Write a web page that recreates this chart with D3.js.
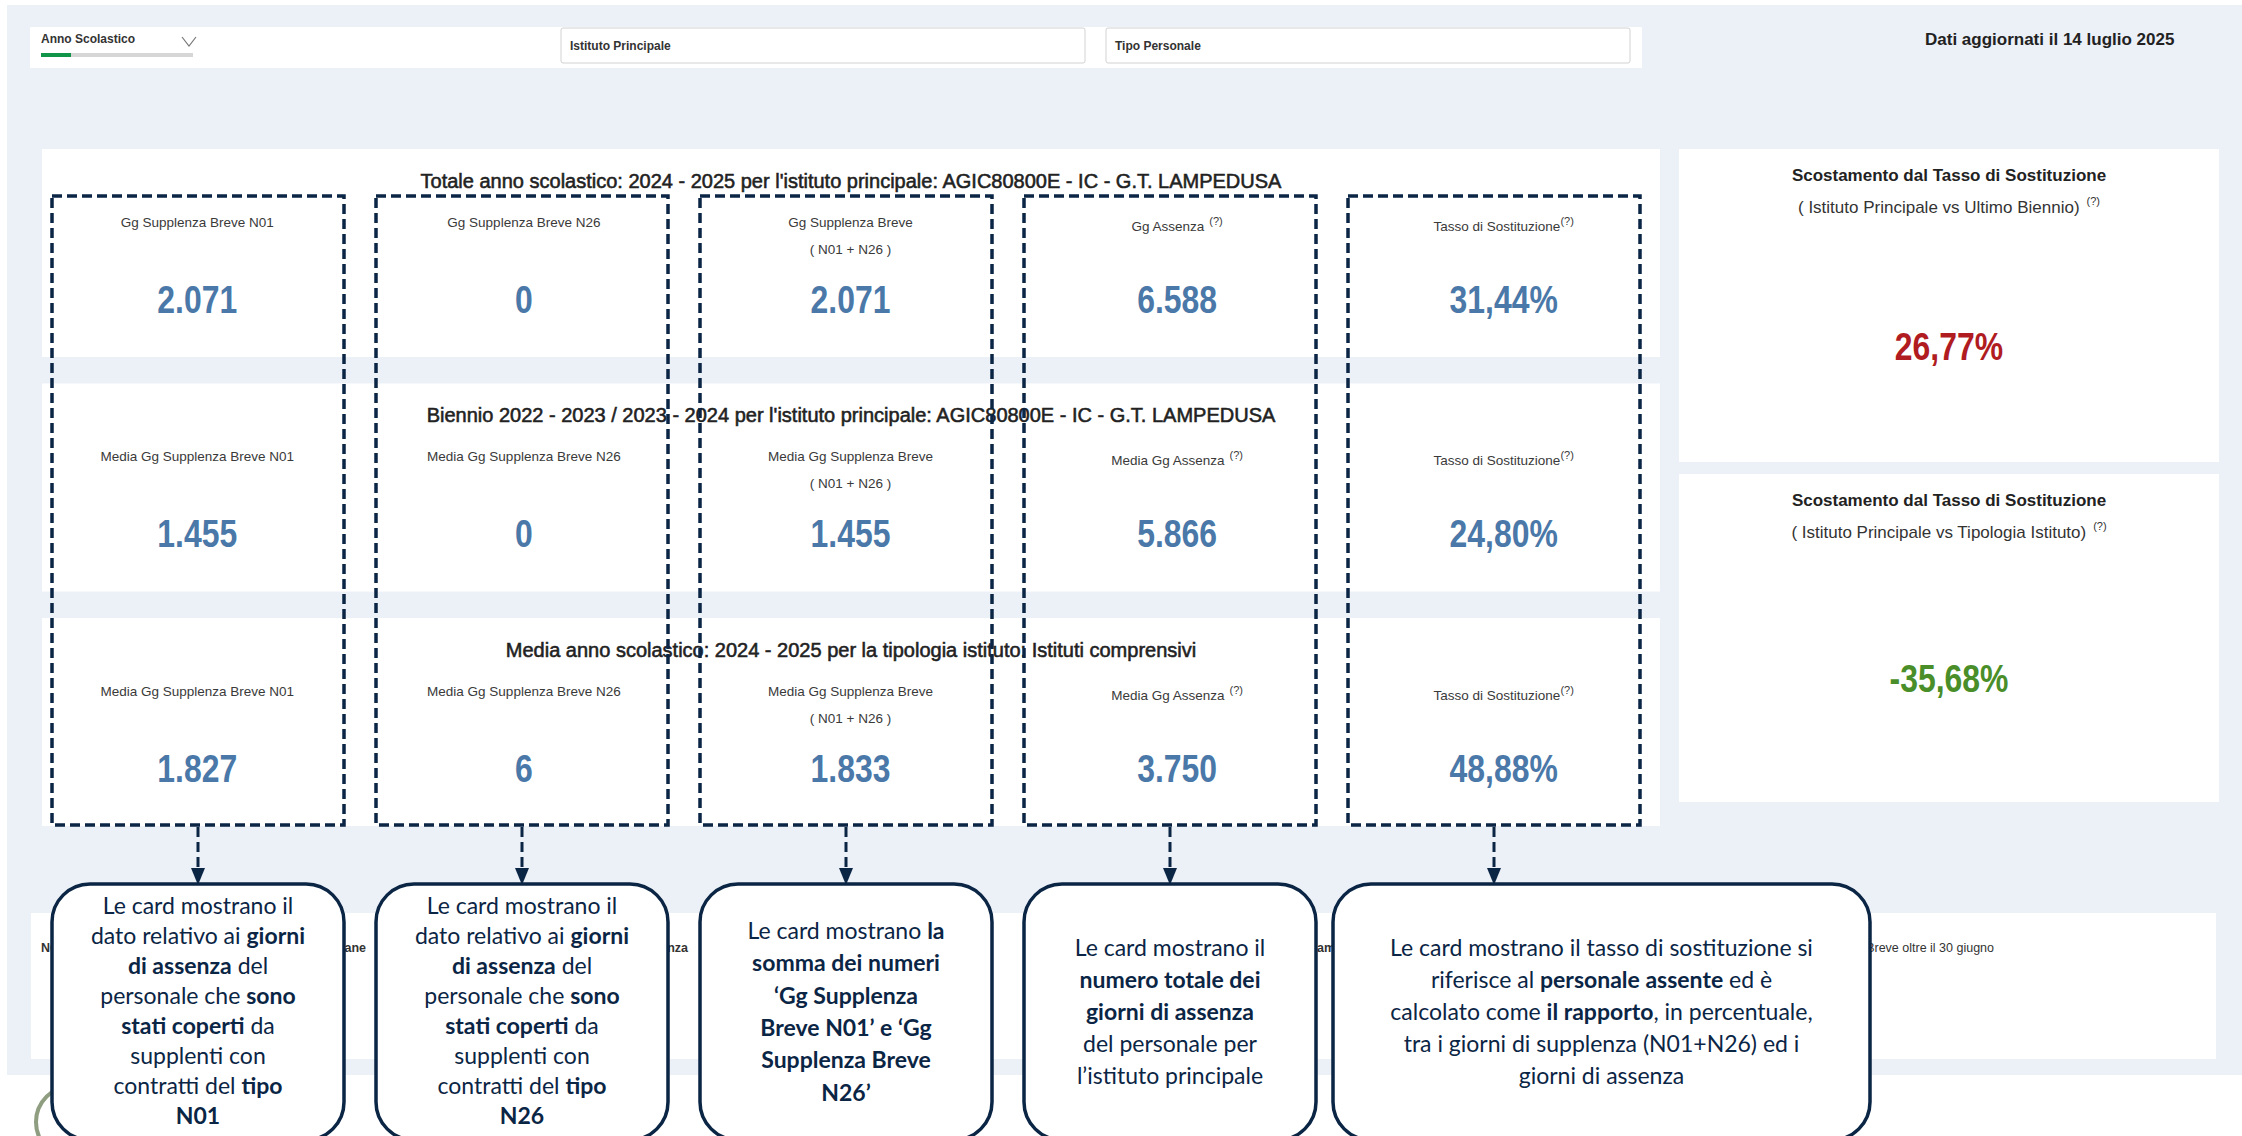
<!DOCTYPE html>
<html>
<head>
<meta charset="utf-8">
<script src="https://cdn.jsdelivr.net/npm/d3@7"></script>
<style>
  body { margin: 0; background: #fff; }
  svg { display: block; }
  text { font-family: "Liberation Sans", Arial, sans-serif; }
  .nota text { font-family: Lato, "Open Sans", sans-serif; }
</style>
</head>
<body>
<svg width="2242" height="1136"></svg>
<script>
// Dati della dashboard
const colonne = ["n01", "n26", "somma", "assenza", "tasso"];
const righe = ["totale", "biennio", "tipologia"];
const titoliRighe = [
  "Totale anno scolastico: 2024 - 2025 per l'istituto principale: AGIC80800E - IC - G.T. LAMPEDUSA",
  "Biennio 2022 - 2023 / 2023 - 2024 per l'istituto principale: AGIC80800E - IC - G.T. LAMPEDUSA",
  "Media anno scolastico: 2024 - 2025 per la tipologia istituto: Istituti comprensivi"
];
const etichetteTotale = ["Gg Supplenza Breve N01", "Gg Supplenza Breve N26", "Gg Supplenza Breve", "Gg Assenza", "Tasso di Sostituzione"];
const etichetteMedia = ["Media Gg Supplenza Breve N01", "Media Gg Supplenza Breve N26", "Media Gg Supplenza Breve", "Media Gg Assenza", "Tasso di Sostituzione"];
const sottoEtichette = ["", "", "( N01 + N26 )", "", ""];
const apici = ["", "", "", "(?)", "(?)"];
const valoriTotale = [2071, 0, 2071, 6588, 31.44];
const valoriBiennio = [1455, 0, 1455, 5866, 24.80];
const valoriTipologia = [1827, 6, 1833, 3750, 48.88];

const titoloScostamento = "Scostamento dal Tasso di Sostituzione";
const sottotitoliScostamento = ["( Istituto Principale vs Ultimo Biennio)", "( Istituto Principale vs Tipologia Istituto)"];
const valoriScostamento = [26.77, -35.68];

const filtri = ["Istituto Principale", "Tipo Personale"];
const filtroAnno = "Anno Scolastico";
const dataAggiornamento = "Dati aggiornati il 14 luglio 2025";

// testi delle note (** = grassetto)
const noteCard = [
  ["Le card mostrano il", "dato relativo ai **giorni**", "**di assenza** del", "personale che **sono**", "**stati coperti** da", "supplenti con", "contratti del **tipo**", "**N01**"],
  ["Le card mostrano il", "dato relativo ai **giorni**", "**di assenza** del", "personale che **sono**", "**stati coperti** da", "supplenti con", "contratti del **tipo**", "**N26**"],
  ["Le card mostrano **la**", "**somma dei numeri**", "**‘Gg Supplenza**", "**Breve N01’ e ‘Gg**", "**Supplenza Breve**", "**N26’**"],
  ["Le card mostrano il", "**numero totale dei**", "**giorni di assenza**", "del personale per", "l’istituto principale"],
  ["Le card mostrano il tasso di sostituzione si", "riferisce al **personale assente** ed è", "calcolato come **il rapporto**, in percentuale,", "tra i giorni di supplenza (N01+N26) ed i", "giorni di assenza"]
];

// testi parzialmente coperti nel riquadro note in basso
const frammentiNote = ["NOTE", "settimane", "assenza", "ambito", "Supplenza Breve oltre il 30 giugno"];

// Colori
const sfondo = "#ecf0f7";
const blu = "#4a78a8";
const navy = "#0b2545";

let svg = d3.select("svg");

const it = d3.formatLocale({ decimal: ",", thousands: ".", grouping: [3], currency: ["€", ""], minus: "-" });
const fmtNum = it.format(",d");
const fmtPct = (v) => it.format(".2f")(v) + "%";

// Scale
const x = d3.scaleBand().domain(colonne).range([34, 1667]);
const y = d3.scaleBand().domain(righe).range([149, 826]).paddingInner(0.113);
const xBox = d3.scalePoint().domain(colonne).range([198, 1494]);
const boxW = 292;

// stringe il testo in orizzontale (font tipo DIN)
function condensa(sel, k) {
  sel.each(function () {
    const w = this.getComputedTextLength();
    d3.select(this).attr("textLength", w * k).attr("lengthAdjust", "spacingAndGlyphs");
  });
}

// sfondo pagina
svg.append("rect").attr("x", 7).attr("y", 5).attr("width", 2235).attr("height", 1070).attr("fill", sfondo);

// barra filtri
svg.append("rect").attr("x", 30).attr("y", 27).attr("width", 1612).attr("height", 41).attr("fill", "#fff");
svg.append("text").attr("x", 41).attr("y", 43).text(filtroAnno)
  .style("font-size", "12px").style("font-weight", "bold").attr("fill", "#333");
svg.append("polyline").attr("points", "182,37 189,46 196,37")
  .attr("fill", "none").attr("stroke", "#777").attr("stroke-width", 1.2);
svg.append("rect").attr("x", 41).attr("y", 53).attr("width", 152).attr("height", 4).attr("fill", "#d6d6d6");
svg.append("rect").attr("x", 41).attr("y", 53).attr("width", 30).attr("height", 4).attr("fill", "#109447");

const xFiltro = d3.scalePoint().domain(filtri).range([561, 1106]);
filtri.forEach((f) => {
  svg.append("rect").attr("x", xFiltro(f)).attr("y", 28).attr("width", 524).attr("height", 35)
    .attr("rx", 2).attr("fill", "#fff").attr("stroke", "#d2d2d2");
  svg.append("text").attr("x", xFiltro(f) + 9).attr("y", 50).text(f)
    .style("font-size", "12px").style("font-weight", "bold").attr("fill", "#333");
});

svg.append("text").attr("x", 1925).attr("y", 45).text(dataAggiornamento)
  .style("font-size", "17px").style("font-weight", "bold").attr("fill", "#222");

// pannello principale: righe bianche con le card
const datiRighe = [valoriTotale, valoriBiennio, valoriTipologia];
const etichetteRighe = [etichetteTotale, etichetteMedia, etichetteMedia];

righe.forEach((r, i) => {
  const top = y(r);
  svg.append("rect").attr("x", 42).attr("y", top).attr("width", 1618).attr("height", y.bandwidth()).attr("fill", "#fff");

  svg.append("text").attr("x", 851).attr("y", top + 39).attr("text-anchor", "middle")
    .text(titoliRighe[i])
    .style("font-size", "20px").attr("fill", "#222").attr("stroke", "#222").attr("stroke-width", 0.55);

  colonne.forEach((c, j) => {
    const cx = x(c) + x.bandwidth() / 2;

    // etichetta
    const lab = svg.append("text").attr("x", cx).attr("y", top + (j >= 3 ? 82 : 78))
      .attr("text-anchor", "middle")
      .style("font-size", "13.5px").attr("fill", "#3a3a3a");
    lab.append("tspan").text(etichetteRighe[i][j]);
    if (apici[j] !== "") {
      lab.append("tspan")
        .attr("dx", c === "assenza" ? 5 : 0)
        .attr("dy", -6)
        .style("font-size", "11px")
        .text(apici[j]);
    }

    // seconda riga dell'etichetta
    if (sottoEtichette[j] !== "") {
      svg.append("text").attr("x", cx).attr("y", top + 105).attr("text-anchor", "middle")
        .style("font-size", "13.5px").attr("fill", "#3a3a3a")
        .text(sottoEtichette[j]);
    }

    // valore
    svg.append("text").attr("x", cx).attr("y", top + 164).attr("text-anchor", "middle")
      .style("font-size", "38px").style("font-weight", "bold").attr("fill", blu)
      .text(c === "tasso" ? fmtPct(datiRighe[i][j]) : fmtNum(datiRighe[i][j]))
      .call(condensa, 0.84);
  });
});

// pannelli scostamento a destra
const pannelli = [[149, 462], [474, 802]];
const xPan = 1679, wPan = 540, cxPan = xPan + wPan / 2;
valoriScostamento.forEach((v, i) => {
  const [t, b] = pannelli[i];
  svg.append("rect").attr("x", xPan).attr("y", t).attr("width", wPan).attr("height", b - t).attr("fill", "#fff");
  svg.append("text").attr("x", cxPan).attr("y", t + 32).attr("text-anchor", "middle")
    .text(titoloScostamento)
    .style("font-size", "17px").style("font-weight", "bold").attr("fill", "#222");
  const st = svg.append("text").attr("x", cxPan).attr("y", t + 64).attr("text-anchor", "middle")
    .style("font-size", "17px").attr("fill", "#333");
  st.append("tspan").text(sottotitoliScostamento[i]);
  st.append("tspan").attr("dx", 7).attr("dy", -8).style("font-size", "11px").text("(?)");
  svg.append("text").attr("x", cxPan).attr("y", (t + b) / 2 + 54).attr("text-anchor", "middle")
    .style("font-size", "38px").style("font-weight", "bold")
    .attr("fill", v >= 0 ? "#b01c1f" : "#4a8e2a")
    .text(fmtPct(v))
    .call(condensa, 0.84);
});

// riquadro note in basso (in parte coperto)
svg.append("rect").attr("x", 31).attr("y", 913).attr("width", 2185).attr("height", 146).attr("fill", "#fff");
const posFrammenti = [[41, "start"], [366, "end"], [688, "end"], [1317, "start"], [1994, "end"]];
frammentiNote.forEach((f, i) => {
  svg.append("text").attr("x", posFrammenti[i][0]).attr("y", 952).attr("text-anchor", posFrammenti[i][1])
    .style("font-size", "12.5px").style("font-weight", i < 4 ? "bold" : "normal").attr("fill", "#333")
    .text(f);
});

// logo (parziale)
svg.append("circle").attr("cx", 72).attr("cy", 1122).attr("r", 36)
  .attr("fill", "none").attr("stroke", "#8f9e80").attr("stroke-width", 4);

// riquadri tratteggiati sopra le card
const boxLeft = (c) => xBox(c) - boxW / 2;
svg.append("g").selectAll("rect").data(colonne).enter().append("rect")
  .attr("x", boxLeft).attr("y", 196).attr("width", boxW).attr("height", 629)
  .attr("fill", "none").attr("stroke", navy).attr("stroke-width", 3.5).attr("stroke-dasharray", "10,5");

// frecce
const frecce = svg.append("g").selectAll("g").data(colonne).enter().append("g");
frecce.append("line")
  .attr("x1", (c) => xBox(c)).attr("x2", (c) => xBox(c)).attr("y1", 827).attr("y2", 870)
  .attr("stroke", navy).attr("stroke-width", 3).attr("stroke-dasharray", "10,5");
frecce.append("path")
  .attr("d", (c) => `M${xBox(c) - 7},868 L${xBox(c) + 7},868 L${xBox(c)},885 Z`)
  .attr("fill", navy);

// riquadri delle note
const larghezzeNote = [292, 292, 292, 292, 537];
const spostamentiNote = [0, 0, 0, 0, -15];
const righeNote = [[914, 30], [914, 30], [939, 32.3], [956, 32], [956, 32]];

const gNote = svg.append("g").attr("class", "nota");
colonne.forEach((c, i) => {
  const x0 = boxLeft(c) + spostamentiNote[i];
  const w = larghezzeNote[i];
  gNote.append("rect").attr("x", x0).attr("y", 884).attr("width", w).attr("height", 256)
    .attr("rx", 38).attr("fill", "#fff").attr("stroke", navy).attr("stroke-width", 3.5);
  noteCard[i].forEach((riga, k) => {
    const t = gNote.append("text").attr("x", x0 + w / 2).attr("y", righeNote[i][0] + k * righeNote[i][1])
      .attr("text-anchor", "middle").style("font-size", "23px").attr("fill", navy);
    riga.split(/(\*\*[^*]+\*\*)/).filter((s) => s).forEach((s) => {
      const bold = s.startsWith("**");
      t.append("tspan").style("font-weight", bold ? "bold" : "normal").text(bold ? s.slice(2, -2) : s);
    });
  });
});
</script>
</body>
</html>
